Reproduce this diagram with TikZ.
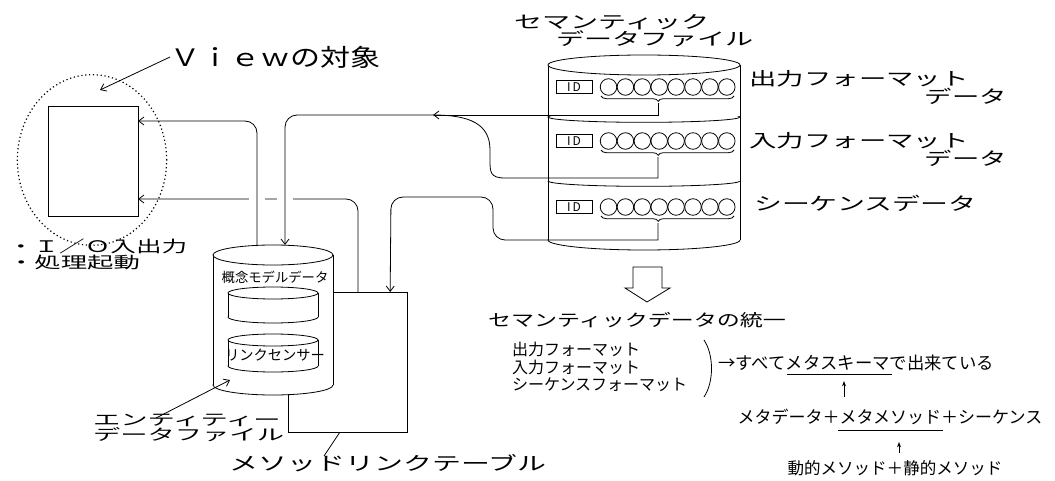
\documentclass[tikz,border=0pt]{standalone}
\usepackage{fontspec}
\setmainfont{Noto Sans CJK JP}
\usepackage{graphicx}
\usetikzlibrary{arrows.meta,positioning,calc,decorations.pathreplacing}
\newcommand{\jsize}[1]{\fontsize{#1}{#1}\selectfont}
\newcommand{\wide}[2]{\scalebox{#1}[1]{#2}}
\tikzset{
    lbl/.style={inner sep=0pt, outer sep=0pt},
    tip/.style={-{Straight Barb[length=4pt,width=6pt]}},
    brc/.style={decorate, decoration={brace, mirror, amplitude=4pt, aspect=0.43}},
}

\begin{document}
\begin{tikzpicture}[x=0.75pt, y=-0.75pt, line width=0.6pt]
        \fill[white] (0,0) rectangle (1055,481);
        \useasboundingbox (0,0) rectangle (1055,481);

        % view side
        \draw[dotted, line width=0.9pt] (92,160) ellipse [x radius=56pt, y radius=64pt];
        \node[draw, lbl, minimum width=67.5pt, minimum height=83pt] (viewbox) at (93,161.5) {};
        \node[lbl] (viewlbl) at (275,57) {\jsize{18pt}\wide{1.25}{Ｖｉｅｗの対象}};
        \coordinate (vtip) at (100,90);
        \draw[tip] (viewlbl.west) -- (vtip);
        \node[lbl, anchor=west] (iolbl) at (8,246) {\jsize{12pt}\wide{1.6}{・Ｉ／Ｏ入出力}};
        \node[lbl, anchor=west] (proclbl) at (8,262) {\jsize{12pt}\wide{1.65}{・処理起動}};
        \coordinate (vin1) at (138,121);
        \coordinate (vin2) at (138,199);

        % method link table, behind the entity file
        \node[draw, lbl, minimum width=89.25pt, minimum height=105pt] (methodtab) at (347.5,362) {};
        \node[lbl] (methlbl) at (388,463) {\jsize{14pt}\wide{1.55}{メソッドリンクテーブル}};
        \draw (324,456) -- (340,432);

        % entity data file
        \draw[fill=white] (273,385) ellipse [x radius=45pt, y radius=7.5pt];
        \fill[white] (213,255) rectangle (333,385);
        \draw (213,255) -- (213,385) (333,255) -- (333,385);
        \draw[fill=white] (273,255) ellipse [x radius=45pt, y radius=7.5pt];
        \foreach \t/\b in {293/317, 340/366} {
            \draw[fill=white] (273,\b) ellipse [x radius=33.75pt, y radius=4.5pt];
            \fill[white] (228,\t) rectangle (318,\b);
            \draw (228,\t) -- (228,\b) (318,\t) -- (318,\b);
            \draw[fill=white] (273,\t) ellipse [x radius=33.75pt, y radius=4.5pt];
        }
        \node[lbl] (concept) at (275,277) {\jsize{10pt}概念モデルデータ};
        \node[lbl] (linksensor) at (275,355) {\jsize{10.7pt}リンクセンサー};
        \node[lbl, anchor=west] (entlbl1) at (93,420) {\jsize{11.5pt}\wide{1.78}{エンティティー}};
        \node[lbl, anchor=west] (entlbl2) at (93,435) {\jsize{11.5pt}\wide{1.78}{データファイル}};
        \coordinate (etip) at (230,380);
        \draw[tip] (156,418) -- (etip);

        % semantic data file
        \draw[fill=white] (644,240) ellipse [x radius=72pt, y radius=7.5pt];
        \fill[white] (548,65) rectangle (740,240);
        \draw (548,65) -- (548,240) (740,65) -- (740,240);
        \draw[fill=white] (644,65) ellipse [x radius=72pt, y radius=7.5pt];
        \foreach \s in {117,181} {
            \begin{scope}
                \clip (540,\s) rectangle (750,\s+20);
                \draw (644,\s) ellipse [x radius=72pt, y radius=4pt];
            \end{scope}
        }
        \foreach \r/\n in {87/1, 141/2, 207/3} {
            \node[draw, lbl, minimum width=27pt, minimum height=9.75pt] (id\n) at (574,\r) {\jsize{9pt}I\,D};
            \foreach \i in {0,...,7}
                \draw (608.5+16.9*\i,\r) circle [radius=6.2pt];
            \draw[brc] (601,\r+9) -- (734,\r+9);
            \coordinate (br\n) at (658,\r+16);
        }
        \node[lbl] (semlbl1) at (612,22) {\jsize{13pt}\wide{1.62}{セマンティック}};
        \node[lbl] (semlbl2) at (655,39) {\jsize{13pt}\wide{1.62}{データファイル}};
        \node[lbl] (outlbl) at (859,79) {\jsize{13.5pt}\wide{1.52}{出力フォーマット}};
        \node[lbl] (outlbl2) at (966,96) {\jsize{13.5pt}\wide{1.52}{データ}};
        \node[lbl] (inlbl) at (859,141) {\jsize{13.5pt}\wide{1.52}{入力フォーマット}};
        \node[lbl] (inlbl2) at (966,158) {\jsize{13.5pt}\wide{1.52}{データ}};
        \node[lbl] (seqlbl) at (865,203) {\jsize{13.5pt}\wide{1.55}{シーケンスデータ}};

        % connectors
        \coordinate (merge) at (433,115);
        \draw[tip, rounded corners=9pt] ([xshift=7.9pt]methodtab.north) -- (358,199) -- (vin2);
        \foreach \x in {257,285}
            \draw[white, line width=3pt] (\x-8,199) -- (\x+8,199);
        \draw[tip, rounded corners=9pt] (257,246) -- (257,121) -- (vin1);
        \draw[tip] (br1) |- (merge);
        \draw[tip, rounded corners=9pt] (merge) -- (285,115) -- (285,245);
        \draw (br2) |- (505,178) .. controls (490,178) and (490,172) .. (490,160) -- (490,150) .. controls (490,124) and (470,115) .. (merge);
        \draw[tip] (br3) -- (658,240) [rounded corners=9pt] -- (493,240) -- (493,197) -- (391,197) -- ([xshift=32pt]methodtab.north);

        % unification
        \draw (633,267) -- (662,267) -- (662,288) -- (670,288) -- (647,302) -- (625,288) -- (633,288) -- cycle;
        \node[lbl] (unilbl) at (637,320) {\jsize{12.5pt}\wide{1.38}{セマンティックデータの統一}};
        \node[lbl, anchor=west, align=left, font={\fontsize{12pt}{13pt}\selectfont}] (fmtlist) at (512,367) {出力フォーマット\\入力フォーマット\\シーケンスフォーマット};
        \draw (704,340) .. controls (714,355) and (714,382) .. (704,397);
        \node[lbl] (metaschema) at (856,363) {\jsize{13pt}→すべてメタスキーマで出来ている};
        \draw (787,374) -- (892,374);
        \node[lbl] (metaparts) at (890,417) {\jsize{12.75pt}メタデータ＋メタメソッド＋シーケンス};
        \draw (838,430) -- (943,430);
        \node[lbl] (methods) at (895,468) {\jsize{12.4pt}動的メソッド＋静的メソッド};
        \draw[-{Stealth[length=4pt,width=3pt]}] (844,397) -- (844,381);
        \draw[-{Stealth[length=4pt,width=3pt]}] (899,453) -- (899,442);
\end{tikzpicture}
\end{document}
